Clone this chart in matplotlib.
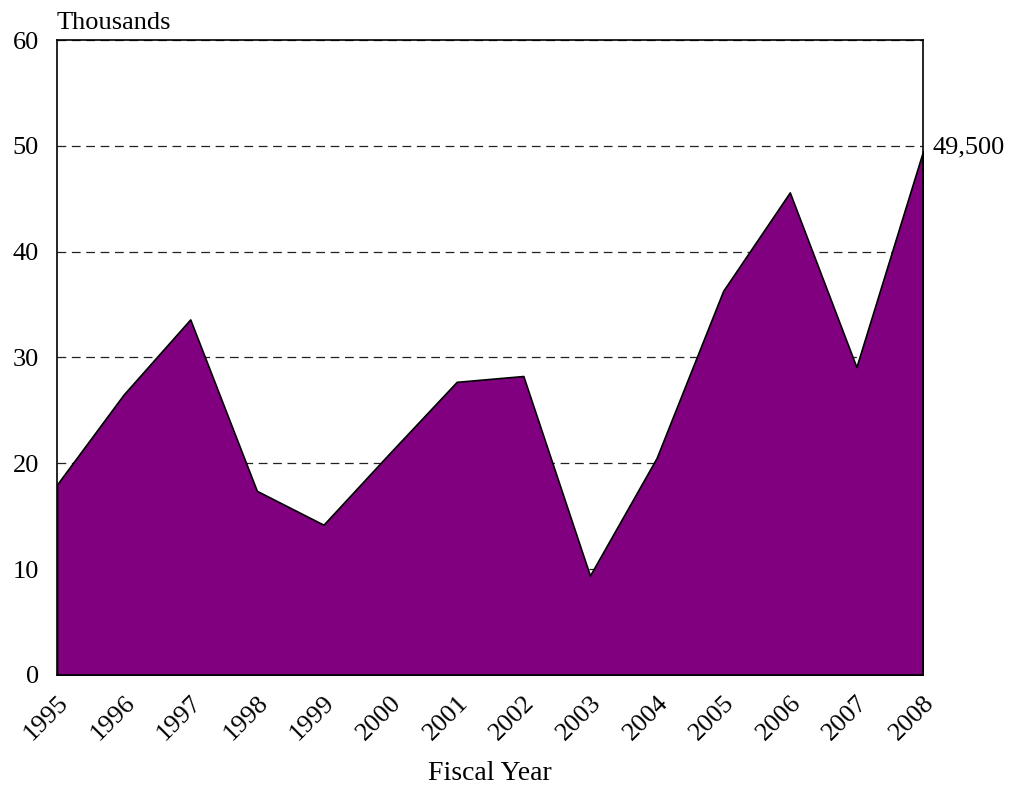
import matplotlib
matplotlib.use("Agg")
import matplotlib.pyplot as plt

years = [1995, 1996, 1997, 1998, 1999, 2000, 2001, 2002, 2003, 2004, 2005, 2006, 2007, 2008]
values = [18.0, 26.5, 33.6, 17.4, 14.2, 21.0, 27.7, 28.25, 9.4, 20.5, 36.3, 45.6, 29.1, 49.5]

plt.rcParams['font.family'] = ['Liberation Serif', 'DejaVu Serif']
plt.rcParams['font.size'] = 19

fig = plt.figure(figsize=(10.11, 7.89), dpi=100)
ax = fig.add_axes([0.0564, 0.1445, 0.8566, 0.8048])

ax.fill_between(years, values, 0, facecolor='#800080', edgecolor='black', linewidth=1.2, zorder=3)
ax.set_xlim(years[0], years[-1])
ax.set_ylim(0, 60)
ax.set_yticks([0, 10, 20, 30, 40, 50, 60])
ax.set_xticks(years)
ax.set_xticklabels([str(y) for y in years], rotation=45, ha='right', va='top', rotation_mode='anchor')
ax.tick_params(length=0)
ax.tick_params(axis='y', pad=13)
ax.tick_params(axis='x', pad=12)
ax.yaxis.grid(True, linestyle=(0, (7, 4.5)), color='#222222', linewidth=0.9, zorder=1)
ax.set_axisbelow(True)
for s in ax.spines.values():
    s.set_linewidth(1.2)
    s.set_zorder(4)

ax.text(0.0, 1.01, 'Thousands', transform=ax.transAxes, ha='left', va='bottom')
ax.annotate('49,500', xy=(years[-1], values[-1]), xytext=(7, 3), textcoords='offset points',
            ha='left', va='center', annotation_clip=False)
ax.set_xlabel('Fiscal Year', fontsize=20, labelpad=12)

fig.savefig('out.png', dpi=100)
